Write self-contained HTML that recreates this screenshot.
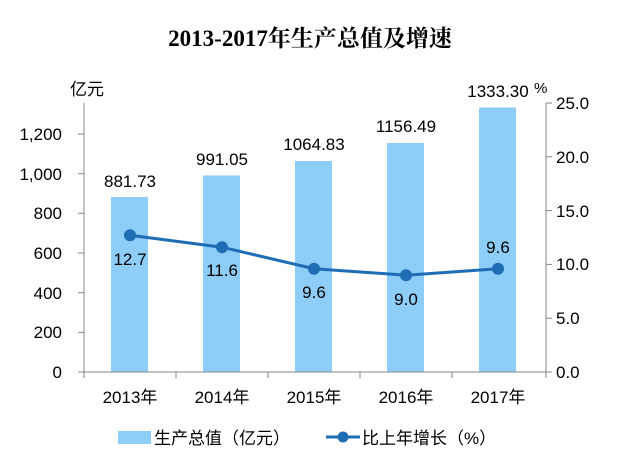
<!DOCTYPE html>
<html><head><meta charset="utf-8"><style>
html,body{margin:0;padding:0;background:#fff;}
svg{display:block;}
text{font-family:"Liberation Sans","Noto Sans CJK SC",sans-serif;fill:#000;}
</style></head><body>
<svg width="619" height="454" viewBox="0 0 619 454" xmlns="http://www.w3.org/2000/svg">
<text x="310" y="46" text-anchor="middle" font-size="23" font-weight="bold" style="font-family:'Liberation Serif','Noto Serif CJK SC',serif">2013-2017年生产总值及增速</text>
<text x="70" y="95" font-size="17">亿元</text>
<text x="534" y="93" font-size="15">%</text>
<!-- bars -->
<g fill="#8ecdf8">
<rect x="111" y="197" width="37" height="175"/>
<rect x="203" y="175.5" width="37" height="196.5"/>
<rect x="295" y="161" width="37" height="211"/>
<rect x="387" y="143" width="37" height="229"/>
<rect x="479" y="107.5" width="37" height="264.5"/>
</g>
<!-- axes -->
<g stroke="#868686" stroke-width="1" fill="none">
<line x1="84" y1="103" x2="84" y2="372"/>
<line x1="546" y1="103" x2="546" y2="372"/>
<line x1="78" y1="372" x2="552" y2="372"/>
<line x1="78" y1="332.3" x2="84" y2="332.3"/><line x1="78" y1="292.7" x2="84" y2="292.7"/><line x1="78" y1="253" x2="84" y2="253"/><line x1="78" y1="213.3" x2="84" y2="213.3"/><line x1="78" y1="173.7" x2="84" y2="173.7"/><line x1="78" y1="134" x2="84" y2="134"/>
<line x1="546" y1="318.2" x2="552" y2="318.2"/><line x1="546" y1="264.4" x2="552" y2="264.4"/><line x1="546" y1="210.6" x2="552" y2="210.6"/><line x1="546" y1="156.8" x2="552" y2="156.8"/><line x1="546" y1="103" x2="552" y2="103"/>
<line x1="84" y1="372" x2="84" y2="378"/><line x1="176" y1="372" x2="176" y2="378"/><line x1="268" y1="372" x2="268" y2="378"/><line x1="360" y1="372" x2="360" y2="378"/><line x1="452" y1="372" x2="452" y2="378"/><line x1="546" y1="372" x2="546" y2="378"/>
</g>
<g font-size="17" text-anchor="end">
<text x="62" y="378">0</text><text x="62" y="338">200</text><text x="62" y="299">400</text><text x="62" y="259">600</text><text x="62" y="219">800</text><text x="62" y="180">1,000</text><text x="62" y="140">1,200</text>
</g>
<g font-size="17">
<text x="556" y="378">0.0</text><text x="556" y="324">5.0</text><text x="556" y="270">10.0</text><text x="556" y="163">20.0</text><text x="556" y="217">15.0</text><text x="556" y="109">25.0</text>
</g>
<g font-size="17" text-anchor="middle">
<text x="130" y="403">2013年</text><text x="222" y="403">2014年</text><text x="314" y="403">2015年</text><text x="406" y="403">2016年</text><text x="498" y="403">2017年</text>
<text x="130" y="187">881.73</text><text x="222" y="165">991.05</text><text x="314" y="150">1064.83</text><text x="406" y="132">1156.49</text><text x="498" y="97">1333.30</text>
<text x="130" y="265">12.7</text><text x="222" y="276">11.6</text><text x="314" y="298">9.6</text><text x="406" y="305">9.0</text><text x="498" y="253">9.6</text>
</g>
<polyline points="130,235.3 222,247.2 314,268.7 406,275.2 498,268.7" fill="none" stroke="#1f6db5" stroke-width="3"/>
<g fill="#1f6db5">
<circle cx="130" cy="235.3" r="6"/><circle cx="222" cy="247.2" r="6"/><circle cx="314" cy="268.7" r="6"/><circle cx="406" cy="275.2" r="6"/><circle cx="498" cy="268.7" r="6"/>
</g>
<!-- legend -->
<rect x="118" y="431" width="33" height="13" fill="#8ecdf8"/>
<text x="154" y="444" font-size="17">生产总值（亿元）</text>
<line x1="326" y1="437" x2="360" y2="437" stroke="#1f6db5" stroke-width="3"/>
<circle cx="343" cy="437" r="5.5" fill="#1f6db5"/>
<text x="362" y="444" font-size="17">比上年增长（%）</text>
</svg>
</body></html>
